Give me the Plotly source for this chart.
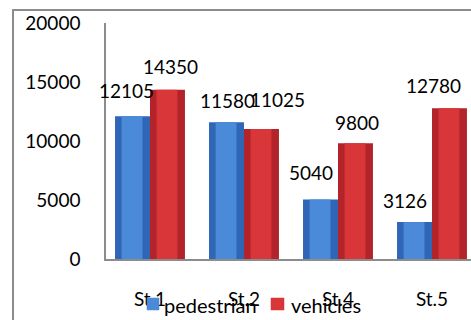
import plotly.graph_objects as go

# Counts per street
streets = ["St.1", "St.2", "St.4", "St.5"]
pedestrian = [12105, 11580, 5040, 3126]
vehicles = [14350, 11025, 9800, 12780]
y_ticks = [0, 5000, 10000, 15000, 20000]
y_tick_text = ["0", "5000", "10000", "15000", "20000"]

# Value-label nudges in pixels (x, y) for each series
ped_label_dx = [-23.5, -16, -27, -27]
ped_label_dy = [26, 22, 27.5, 22]
veh_label_dx = [20.5, 34, 19.5, 2]
veh_label_dy = [23, 29, 21, 23]

FONT = "Lato, 'Liberation Sans', sans-serif"
TXT = 19
BAR_W = 0.372
BLUE_RIM, BLUE_MID = "#2f66b6", "#4a8ad8"
RED_RIM, RED_MID = "#b3242a", "#d9363a"

fig = go.Figure()

# Base bars (darker rim)
fig.add_trace(go.Bar(
    x=streets, y=pedestrian, name="pedestrian",
    offset=-BAR_W, width=BAR_W,
    marker=dict(color=BLUE_RIM, line=dict(width=0)),
    hoverinfo="x+y",
))
fig.add_trace(go.Bar(
    x=streets, y=vehicles, name="vehicles",
    offset=0, width=BAR_W,
    marker=dict(color=RED_RIM, line=dict(width=0)),
    hoverinfo="x+y",
))
# Lighter centre band for a cylindrical look
fig.add_trace(go.Bar(
    x=streets, y=pedestrian, showlegend=False, hoverinfo="skip",
    offset=-BAR_W + 0.07, width=BAR_W - 0.15,
    marker=dict(color=BLUE_MID, line=dict(width=0)),
))
fig.add_trace(go.Bar(
    x=streets, y=vehicles, showlegend=False, hoverinfo="skip",
    offset=0.07, width=BAR_W - 0.15,
    marker=dict(color=RED_MID, line=dict(width=0)),
))

annotations = []
for s, v, dx, dy in zip(streets, pedestrian, ped_label_dx, ped_label_dy):
    annotations.append(dict(x=s, y=v, text=str(v), showarrow=False,
                            xanchor="center", yanchor="middle",
                            xshift=dx, yshift=dy,
                            font=dict(family=FONT, size=TXT, color="#000")))
for s, v, dx, dy in zip(streets, vehicles, veh_label_dx, veh_label_dy):
    annotations.append(dict(x=s, y=v, text=str(v), showarrow=False,
                            xanchor="center", yanchor="middle",
                            xshift=dx, yshift=dy,
                            font=dict(family=FONT, size=TXT, color="#000")))

# Legend drawn below the axis: swatches plus labels
legend_items = [("pedestrian", BLUE_MID, 0.1123, 0.1452, 0.1534),
                ("vehicles", RED_MID, 0.452, 0.4877, 0.5014)]
shapes = [dict(type="rect", xref="paper", yref="paper",
               x0=-0.2548, x1=1.2, y0=-0.4, y1=1.055,
               line=dict(color="#8c8c8c", width=2), layer="below")]
for label, color, sx0, sx1, tx in legend_items:
    shapes.append(dict(type="rect", xref="paper", yref="paper",
                       x0=sx0, x1=sx1, y0=-0.2161, y1=-0.1653,
                       fillcolor=color, line=dict(color=color, width=0.5),
                       layer="above"))
    annotations.append(dict(x=tx, y=-0.1952, xref="paper", yref="paper",
                            text=label, showarrow=False,
                            xanchor="left", yanchor="middle",
                            font=dict(family=FONT, size=20, color="#000")))

fig.update_layout(
    width=471, height=320,
    margin=dict(l=106, r=0, t=23, b=61),
    paper_bgcolor="white", plot_bgcolor="white",
    barmode="overlay", showlegend=False,
    font=dict(family=FONT, size=TXT, color="#000"),
    annotations=annotations,
    shapes=shapes,
    xaxis=dict(
        type="category", categoryorder="array", categoryarray=streets,
        range=[-0.468, 3.415],
        showline=True, linecolor="#8c8c8c", linewidth=2,
        showgrid=False, zeroline=False, ticks="",
        ticklabelstandoff=22,
        tickfont=dict(family=FONT, size=TXT, color="#000"),
    ),
    yaxis=dict(
        range=[0, 20000], tickvals=y_ticks, ticktext=y_tick_text,
        showline=True, linecolor="#8c8c8c", linewidth=1.5,
        showgrid=False, zeroline=False, ticks="",
        ticklabelstandoff=20,
        tickfont=dict(family=FONT, size=TXT, color="#000"),
    ),
)

fig.write_html("out.html")
